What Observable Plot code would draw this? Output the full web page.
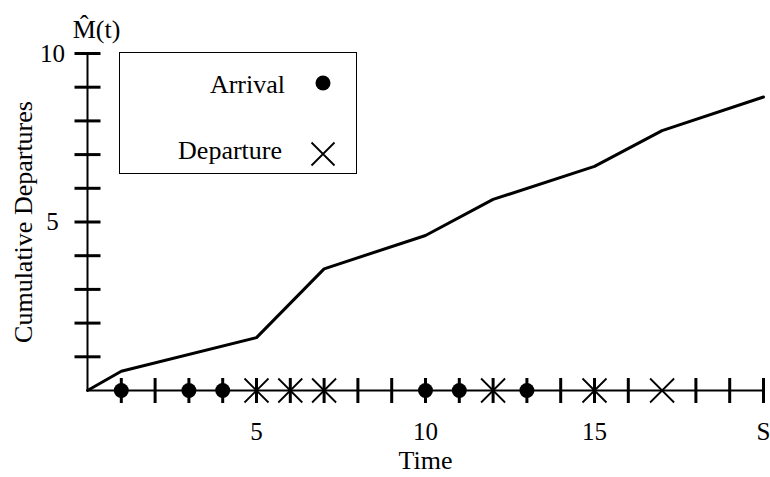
<!DOCTYPE html>
<html>
<head>
<meta charset="utf-8">
<script src="https://cdn.jsdelivr.net/npm/d3@7"></script>
<script src="https://cdn.jsdelivr.net/npm/@observablehq/plot@0.6"></script>
<style>
  html, body { margin: 0; padding: 0; background: #fff; }
  #wrap { position: relative; width: 770px; height: 477px; font-family: "Liberation Serif", "Times New Roman", serif; }
  #legend { position: absolute; left: 119px; top: 52px; width: 238px; height: 122px; box-sizing: border-box; border: 1.5px solid #000; background: #fff; }
  #legend svg { position: absolute; left: 0; top: 0; overflow: visible; }
</style>
</head>
<body>
<div id="wrap"></div>
<script>
// Curve: cumulative departures estimate over time
const curveTime = [0, 1, 5, 7, 10, 12, 15, 17, 20];
const curveValue = [0, 0.57, 1.57, 3.61, 4.6, 5.67, 6.65, 7.71, 8.71];

// Events on the time axis
const arrivalTimes = [1, 3, 4, 10, 11, 13];
const departureTimes = [5, 6, 7, 12, 15, 17];

// Axis tick marks and labels
const xTickMarks = [1, 2, 3, 4, 5, 6, 7, 8, 9, 10, 11, 12, 13, 14, 15, 16, 18, 19, 20];
const yTickMarks = [1, 2, 3, 4, 5, 6, 7, 8, 9, 10];
const xLabelTicks = [5, 10, 15, 20];
const xLabelText = ["5", "10", "15", "S"];
const yLabelTicks = [5, 10];

const yTitle = "Cumulative Departures";
const xTitle = "Time";
const topTitle = "M\u0302(t)";
const legendLabels = ["Arrival", "Departure"];

const hLine = { draw(ctx, size) { const r = Math.sqrt(size / Math.PI); ctx.moveTo(-r, 0); ctx.lineTo(r, 0); } };
const vLine = { draw(ctx, size) { const r = Math.sqrt(size / Math.PI); ctx.moveTo(0, -r); ctx.lineTo(0, r); } };
const xSym = { draw(ctx, size) { const r = Math.sqrt(size / Math.PI); ctx.moveTo(-r, -r); ctx.lineTo(r, r); ctx.moveTo(-r, r); ctx.lineTo(r, -r); } };

const chart = Plot.plot({
  width: 770,
  height: 477,
  marginLeft: 87,
  marginRight: 7,
  marginTop: 53,
  marginBottom: 87,
  style: { fontFamily: "Liberation Serif, Times New Roman, serif", fontSize: "25px", color: "#000", background: "#fff", overflow: "visible" },
  x: { domain: [0, 20] },
  y: { domain: [0, 10] },
  marks: [
    Plot.axisX({ ticks: xLabelTicks, tickFormat: d => xLabelText[xLabelTicks.indexOf(d)], tickSize: 0, tickPadding: 32, label: null, fontSize: 25 }),
    Plot.axisY({ ticks: yLabelTicks, tickSize: 0, tickPadding: 35, textAnchor: "middle", label: null, fontSize: 25 }),
    Plot.line(curveTime.map((t, i) => i), { x: i => curveTime[i], y: i => curveValue[i], stroke: "#000", strokeWidth: 3, strokeLinejoin: "round" }),
    Plot.ruleY([0], { x1: 0, x2: 20, stroke: "#000", strokeWidth: 2 }),
    Plot.ruleX([0], { y1: 0, y2: 10, stroke: "#000", strokeWidth: 2 }),
    Plot.dot(yTickMarks, { x: () => 0, y: d => d, symbol: hLine, r: 13, stroke: "#000", strokeWidth: 3 }),
    Plot.dot(xTickMarks, { x: d => d, y: () => 0, symbol: vLine, r: 12.5, stroke: "#000", strokeWidth: 3 }),
    Plot.dot(arrivalTimes, { x: d => d, y: () => 0, r: 7.5, fill: "#000", stroke: "none" }),
    Plot.dot(departureTimes, { x: d => d, y: () => 0, symbol: xSym, r: 12, stroke: "#000", strokeWidth: 1.8, fill: "none" }),
    Plot.text([topTitle], { text: d => d, frameAnchor: "top-left", dx: 9, dy: -24, textAnchor: "middle", lineAnchor: "middle", fontSize: 26 }),
    Plot.text([yTitle], { text: d => d, frameAnchor: "left", dx: -64, rotate: -90, textAnchor: "middle", lineAnchor: "middle", fontSize: 26 }),
    Plot.text([xTitle], { text: d => d, frameAnchor: "bottom", dy: 70, textAnchor: "middle", lineAnchor: "middle", fontSize: 26 })
  ]
});

const wrap = document.getElementById("wrap");
wrap.appendChild(chart);

// Legend overlay
const legend = document.createElement("div");
legend.id = "legend";
const ns = "http://www.w3.org/2000/svg";
const lsvg = document.createElementNS(ns, "svg");
lsvg.setAttribute("width", 235);
lsvg.setAttribute("height", 119);
const t1 = document.createElementNS(ns, "text");
t1.setAttribute("x", 165); t1.setAttribute("y", 40); t1.setAttribute("text-anchor", "end");
t1.setAttribute("font-size", 26); t1.setAttribute("font-family", "Liberation Serif, Times New Roman, serif");
t1.textContent = legendLabels[0];
const c1 = document.createElementNS(ns, "circle");
c1.setAttribute("cx", 203); c1.setAttribute("cy", 30); c1.setAttribute("r", 7.5); c1.setAttribute("fill", "#000");
const t2 = document.createElementNS(ns, "text");
t2.setAttribute("x", 162); t2.setAttribute("y", 106); t2.setAttribute("text-anchor", "end");
t2.setAttribute("font-size", 26); t2.setAttribute("font-family", "Liberation Serif, Times New Roman, serif");
t2.textContent = legendLabels[1];
const x2 = document.createElementNS(ns, "path");
x2.setAttribute("d", "M191.5,89.5L214.5,112.5M191.5,112.5L214.5,89.5");
x2.setAttribute("stroke", "#000"); x2.setAttribute("stroke-width", 1.8); x2.setAttribute("fill", "none");
lsvg.append(t1, c1, t2, x2);
legend.appendChild(lsvg);
wrap.appendChild(legend);
</script>
</body>
</html>
